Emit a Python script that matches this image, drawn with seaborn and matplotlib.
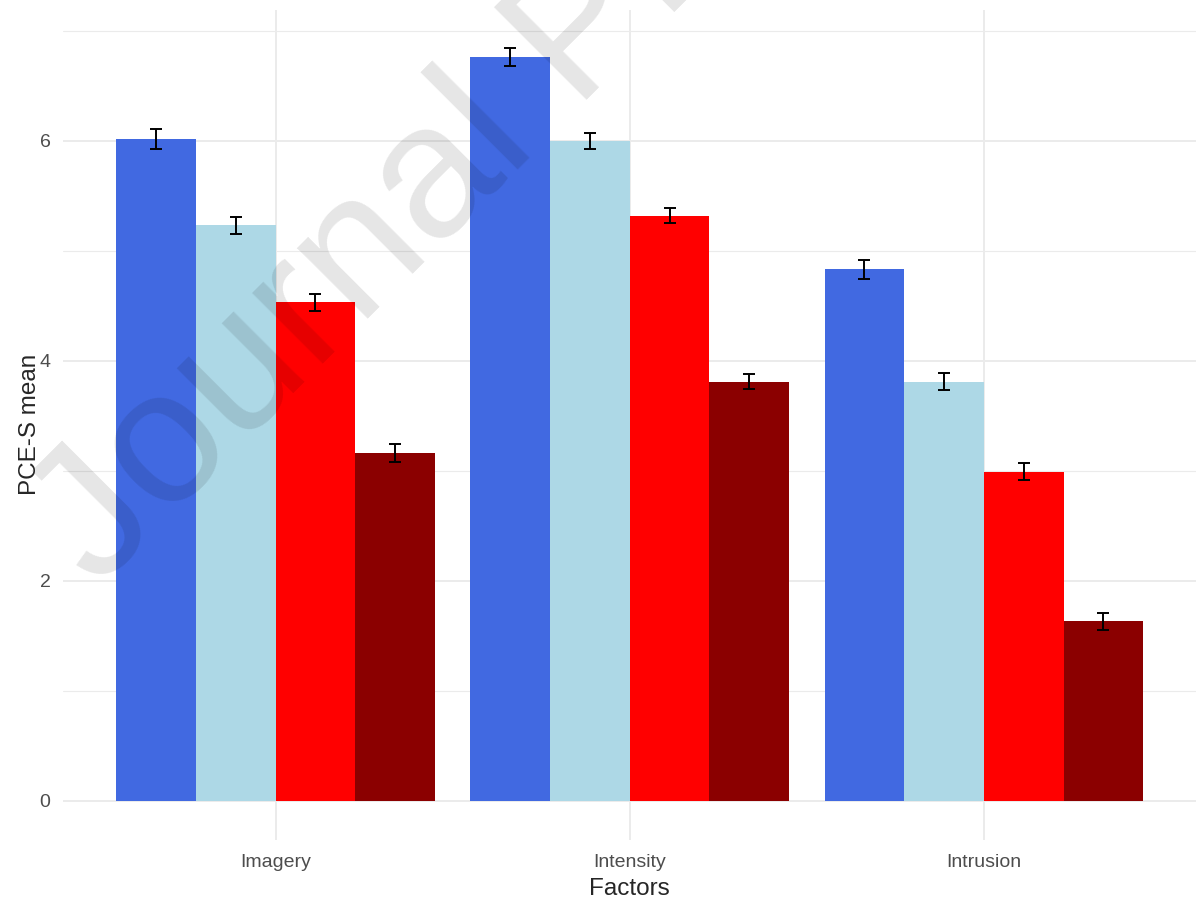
import pandas as pd
import seaborn as sns
import matplotlib.pyplot as plt
from matplotlib.ticker import MultipleLocator

# values
factors = ["Imagery", "Intensity", "Intrusion"]
groups = ["Group 1", "Group 2", "Group 3", "Group 4"]
means = {
    "Group 1": [6.02, 6.76, 4.83],
    "Group 2": [5.23, 6.00, 3.81],
    "Group 3": [4.53, 5.32, 2.99],
    "Group 4": [3.16, 3.81, 1.63],
}
errors = {
    "Group 1": [0.09, 0.08, 0.09],
    "Group 2": [0.08, 0.075, 0.075],
    "Group 3": [0.08, 0.07, 0.077],
    "Group 4": [0.08, 0.07, 0.074],
}
palette = ["#4169E1", "#ADD8E6", "#FF0000", "#8B0000"]

rows = []
for g in groups:
    for f, m, e in zip(factors, means[g], errors[g]):
        rows.append({"Factors": f, "Group": g, "mean": m, "se": e})
df = pd.DataFrame(rows)

sns.set_style("white")
plt.rcParams['font.family'] = ['Liberation Sans', 'DejaVu Sans']

fig, ax = plt.subplots(figsize=(12, 9.02), dpi=100)
fig.subplots_adjust(left=0.0525, right=0.997, top=0.989, bottom=0.069)

sns.barplot(data=df, x="Factors", y="mean", hue="Group", order=factors,
            hue_order=groups, palette=palette, width=0.9, errorbar=None,
            saturation=1, linewidth=0, ax=ax, legend=False, zorder=2)

# error bars at the centre of each bar
for container, g in zip(ax.containers, groups):
    xs = [b.get_x() + b.get_width() / 2 for b in container]
    ax.errorbar(xs, means[g], yerr=errors[g], fmt="none", ecolor="black",
                elinewidth=1.4, capsize=4, capthick=1.4, zorder=3)

ax.set_xlim(-0.6, 2.6)
ax.set_ylim(-0.355, 7.19)
ax.yaxis.set_major_locator(MultipleLocator(2))
ax.yaxis.set_minor_locator(MultipleLocator(1))
ax.grid(True, which="major", color="#ebebeb", linewidth=1.4, zorder=0)
ax.grid(True, which="minor", axis="y", color="#ebebeb", linewidth=0.8, zorder=0)
ax.set_axisbelow(True)
for s in ax.spines.values():
    s.set_visible(False)

ax.tick_params(axis="both", length=0, labelsize=14, labelcolor="#4d4d4d")
ax.tick_params(axis="x", pad=10)
ax.tick_params(axis="y", pad=9)
ax.set_xlabel("Factors", fontsize=17.5, labelpad=5)
ax.set_ylabel("PCE-S mean", fontsize=17.5, labelpad=-1)

# watermark
fig.text(0.081, 0.346, "Journal Pre-proof", fontsize=137, color="black",
         alpha=0.1, rotation=45, rotation_mode="anchor", ha="left",
         va="baseline", zorder=10)

plt.savefig("out.png")
